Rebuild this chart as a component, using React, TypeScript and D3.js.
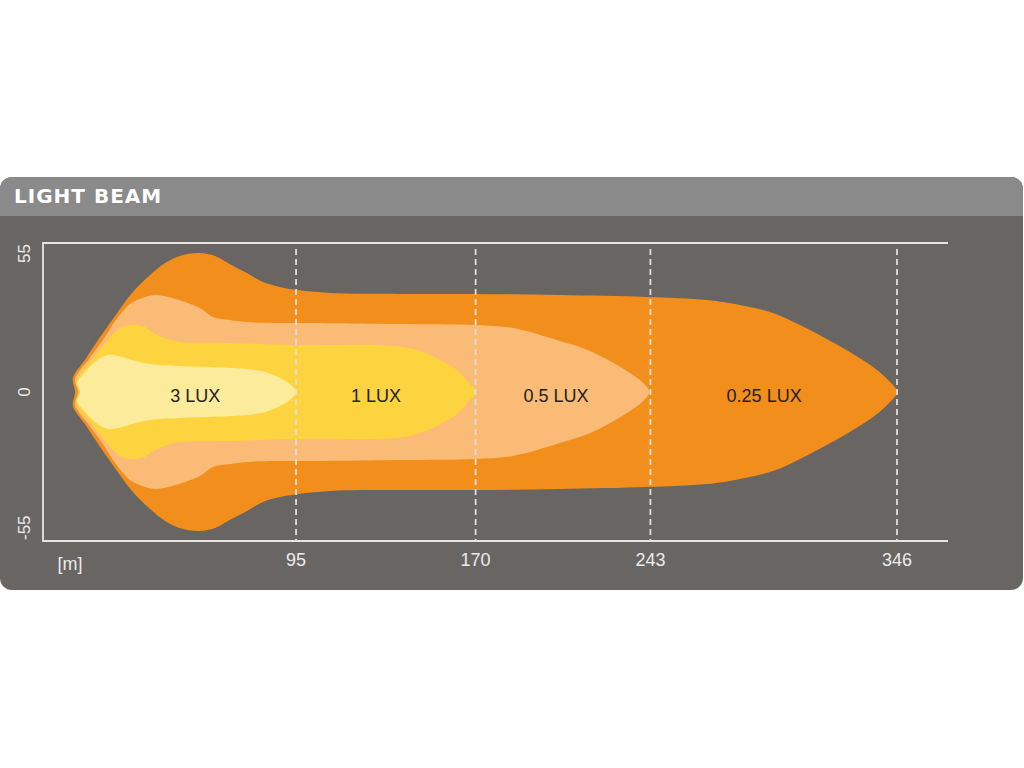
import React from "react";
import * as d3 from "d3";

// ---- data ----
const title = "LIGHT BEAM";
const xTicks = [95, 170, 243, 346];
const yTicks = [55, 0, -55];
const unitLabel = "[m]";

const zoneNames = ["0.25 LUX", "0.5 LUX", "1 LUX", "3 LUX"];
const zoneColors = ["#f18e1c", "#f9bb76", "#fdd33f", "#fdeb9c"];
const labelDist = [290.5, 203.6, 128.4, 52.9];

// distance (m) and half-width (m) outlines for each isolux zone
const dist025 = [2.7, 1.8, 7.3, 12.3, 19.4, 26.5, 33.2, 40.3, 47.4, 54.9, 61.2, 67.4, 74.5, 81.2, 88.3, 95, 109.2, 138.4, 169.8, 205.3, 241.6, 266.7, 280.5, 294.2, 305.5, 315.1, 325.6, 336.0, 342.3, 346];
const hw025 = [0, 5.2, 12.5, 19.2, 28.1, 36.5, 42.5, 47.6, 50.5, 51.3, 50.2, 47.2, 43.9, 40.6, 38.8, 37.7, 36.5, 36.2, 36.2, 35.8, 35.1, 34.0, 32.1, 29.2, 24.7, 20.3, 15.1, 9.2, 4.4, 0];

const dist05 = [3.9, 2.7, 8.5, 14.0, 19.8, 25.6, 30.7, 36.1, 41.6, 47.4, 54.9, 60.3, 67.4, 74.5, 86.2, 98.7, 138.4, 169.8, 185.6, 199.8, 205.3, 215.8, 226.2, 234.5, 240.0, 242.5];
const hw05 = [0, 4.8, 12.2, 18.8, 26.6, 32.5, 34.7, 35.8, 35.1, 33.6, 31.0, 27.7, 26.6, 25.8, 25.5, 25.5, 25.1, 24.7, 23.6, 20.3, 18.8, 15.9, 11.4, 7.0, 3.3, 0];

const dist1 = [4.3, 3.1, 8.9, 14.8, 19.4, 23.1, 27.7, 31.9, 34.9, 40.3, 46.5, 67.4, 98.7, 130.1, 142.6, 151.0, 162.3, 166.9, 169.8];
const hw1 = [0, 4.1, 11.1, 17.7, 22.1, 24.4, 24.7, 24.0, 22.1, 19.9, 18.5, 18.1, 17.3, 17.3, 16.2, 13.7, 8.1, 3.7, 0];

const dist3 = [4.8, 3.5, 6.9, 11.0, 14.0, 16.5, 20.6, 26.5, 34.0, 46.5, 74.5, 82.1, 88.3, 92.9, 95];
const hw3 = [0, 3.3, 7.4, 11.1, 12.9, 13.7, 13.3, 11.8, 10.3, 9.6, 8.5, 7.4, 5.2, 2.6, 0];

const zoneDist = [dist025, dist05, dist1, dist3];
const zoneHw = [hw025, hw05, hw1, hw3];

const X_MIN = -10.7;
const X_MAX = 367.3;

export default function App() {
  const W = 1024;
  const H = 768;
  const plotLeft = 43;
  const plotRight = 948;
  const plotTop = 243;
  const plotBottom = 541;

  const x = d3.scaleLinear().domain([X_MIN, X_MAX]).range([plotLeft, plotRight]);
  const y = d3.scaleLinear().domain([-55, 55]).range([plotBottom, plotTop]);

  const line = d3
    .line<[number, number]>()
    .x((d) => x(d[0]))
    .y((d) => y(d[1]))
    .curve(d3.curveCatmullRomClosed.alpha(0.5));

  const zonePaths = zoneDist.map((ds, i) => {
    const hs = zoneHw[i];
    const top: [number, number][] = ds.map((d, j) => [d, hs[j]]);
    const bottom: [number, number][] = ds
      .slice(1, -1)
      .map((d, j) => [d, -hs[j + 1]] as [number, number])
      .reverse();
    return line(top.concat(bottom)) || "";
  });

  const font = "'Liberation Sans', Arial, Helvetica, sans-serif";
  const lineCol = "#e4e4e4";

  return (
    <svg
      width={W}
      height={H}
      style={{ position: "absolute", left: 0, top: 0, display: "block", background: "#ffffff" }}
    >
      <defs>
        <clipPath id="panelClip">
          <rect x={0} y={177} width={1023} height={413} rx={12} ry={12} />
        </clipPath>
      </defs>
      <g clipPath="url(#panelClip)">
        <rect x={0} y={177} width={1023} height={413} fill="#686563" />
        <rect x={0} y={177} width={1023} height={39} fill="#8b8a8b" />
      </g>
      <text
        x={14}
        y={203}
        fill="#ffffff"
        fontFamily="'DejaVu Sans', sans-serif"
        fontWeight="bold"
        fontSize={20}
        letterSpacing={1}
      >
        {title}
      </text>

      {/* beam zones */}
      {zonePaths.map((p, i) => (
        <path key={zoneNames[i]} d={p} fill={zoneColors[i]} />
      ))}

      {/* dashed distance lines */}
      {xTicks.map((t) => (
        <line
          key={"d" + t}
          x1={x(t)}
          x2={x(t)}
          y1={plotTop + 6}
          y2={plotBottom}
          stroke="#dedede"
          strokeWidth={1.8}
          strokeDasharray="6,4"
        />
      ))}

      {/* frame */}
      <path
        d={`M${plotRight},${plotTop}H${plotLeft}V${plotBottom}H${plotRight}`}
        fill="none"
        stroke={lineCol}
        strokeWidth={1.8}
      />

      {/* x tick labels */}
      {xTicks.map((t) => (
        <text
          key={"t" + t}
          x={x(t)}
          y={566}
          textAnchor="middle"
          fill="#ececec"
          fontFamily={font}
          fontSize={18}
        >
          {t}
        </text>
      ))}
      <text x={70} y={570} textAnchor="middle" fill="#ececec" fontFamily={font} fontSize={18}>
        {unitLabel}
      </text>

      {/* y tick labels */}
      {yTicks.map((t) => (
        <text
          key={"y" + t}
          transform={`translate(30,${t === 55 ? y(t) + 1 : t === -55 ? y(t) - 1 : y(t)}) rotate(-90)`}
          textAnchor={t === 55 ? "end" : t === -55 ? "start" : "middle"}
          fill="#ececec"
          fontFamily={font}
          fontSize={17}
        >
          {t}
        </text>
      ))}

      {/* zone labels */}
      {zoneNames.map((n, i) => (
        <text
          key={"l" + n}
          x={x(labelDist[i])}
          y={y(0) + 10}
          textAnchor="middle"
          fill="#222222"
          fontFamily={font}
          fontSize={18}
        >
          {n}
        </text>
      ))}
    </svg>
  );
}
